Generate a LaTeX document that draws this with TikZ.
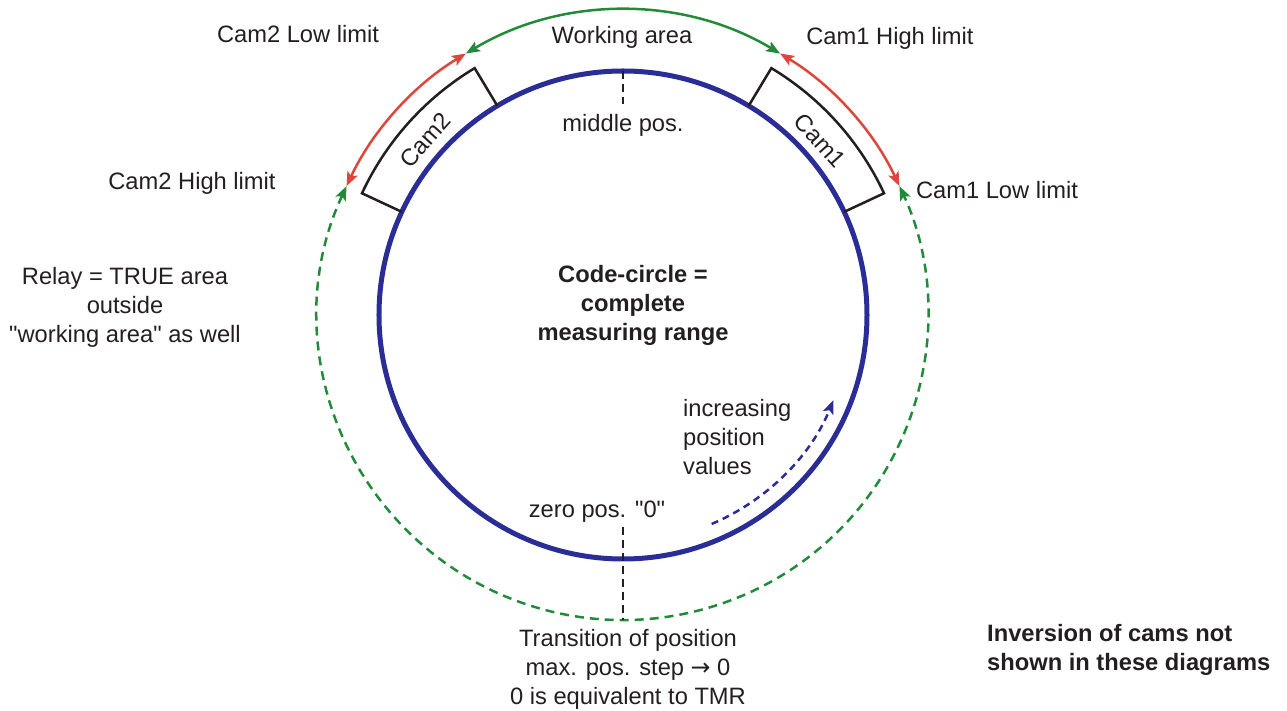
\documentclass[tikz,border=0pt]{standalone}
\usepackage{fontspec}
\setmainfont{Liberation Sans}[Ligatures=TeXOff]
\newfontfamily\arrowfont{DejaVu Sans}
\usepackage{tikz}
\usetikzlibrary{positioning,arrows.meta}
\definecolor{codeblue}{RGB}{43,45,150}
\definecolor{areagreen}{RGB}{34,139,58}
\definecolor{limitred}{RGB}{221,70,60}
\definecolor{textgray}{RGB}{35,31,32}

\tikzset{
  lbl/.style={font=\fontsize{23.7}{29}\selectfont, text=textgray, inner sep=0pt, align=center},
  boldlbl/.style={lbl, font=\fontsize{23.7}{29}\selectfont\bfseries},
  limitarrow/.style={line width=2.5pt, {Stealth[length=14pt,width=11pt,inset=3pt]}-{Stealth[length=14pt,width=11pt,inset=3pt]}},
  markline/.style={line width=2.5pt, textgray, dash pattern=on 8pt off 5pt}
}

\begin{document}
\begin{tikzpicture}[x=1pt,y=1pt]
\useasboundingbox (-623,-396) rectangle (664,315);

% Code circle
\draw[codeblue, line width=5pt] (0,0) circle[radius=244];

% Limit points on the outer ring
\coordinate (c1lo) at (25:305);
\coordinate (c1hi) at (59:305);
\coordinate (c2lo) at (121:305);
\coordinate (c2hi) at (155:305);

% Working area and cam limits
\draw[areagreen, limitarrow] (c1hi) arc[start angle=59, end angle=121, radius=305];
\draw[limitred, limitarrow] (c2lo) arc[start angle=121, end angle=155, radius=305];
\draw[limitred, limitarrow] (c1lo) arc[start angle=25, end angle=59, radius=305];
\draw[areagreen, limitarrow, dash pattern=on 9pt off 6pt] (c2hi) arc[start angle=155, end angle=385, radius=305];

% Cam boxes
\draw[line width=2.5pt, textgray] (121:244) -- (121:288) arc[start angle=121, end angle=155, radius=288] -- (155:244);
\draw[line width=2.5pt, textgray] (59:244) -- (59:288) arc[start angle=59, end angle=25, radius=288] -- (25:244);
\node[lbl, rotate=48] (cam2) at (138.5:264) {Cam2};
\node[lbl, rotate=-48] (cam1) at (41.5:263) {Cam1};

% Middle and zero position marks
\node[lbl] (midpos) at (0,190) {middle pos.};
\coordinate (midtop) at (90:244);
\coordinate (midend) at (0,211);
\draw[markline] (midtop) -- (midend);

\node[lbl] (zeropos) at (-26,-197) {zero pos. "0"};
\coordinate (zerotop) at (0,-212);
\coordinate (zeroend) at (0,-305);
\draw[markline] (zerotop) -- (zeroend);

% Direction of counting
\draw[codeblue, line width=2.5pt, dash pattern=on 7pt off 5pt, -{Stealth[length=14pt,width=11pt,inset=3pt]}] (-67:227) arc[start angle=-67, end angle=-22, radius=227];
\node[lbl, align=left, anchor=west] (incr) at (60,-122) {increasing\\position\\values};

% Labels
\node[lbl] (c2lolbl) at (-325,281) {Cam2 Low limit};
\node[lbl] (c2hilbl) at (-431,132) {Cam2 High limit};
\node[lbl] (worklbl) at (-1,278) {Working area};
\node[lbl] (c1hilbl) at (267,277) {Cam1 High limit};
\node[lbl] (c1lolbl) at (374,125) {Cam1 Low limit};
\node[lbl] (relay) at (-498,8) {Relay = TRUE area\\outside\\"working area" as well};
\node[boldlbl] (codecircle) at (10,10) {Code-circle =\\complete\\measuring range};
\node[lbl] (transition) at (5,-354) {Transition of position\\max. pos. step {\arrowfont →} 0\\0 is equivalent to TMR};
\node[boldlbl, align=left, anchor=west] (inversion) at (364,-335) {Inversion of cams not\\shown in these diagrams};
\end{tikzpicture}
\end{document}
